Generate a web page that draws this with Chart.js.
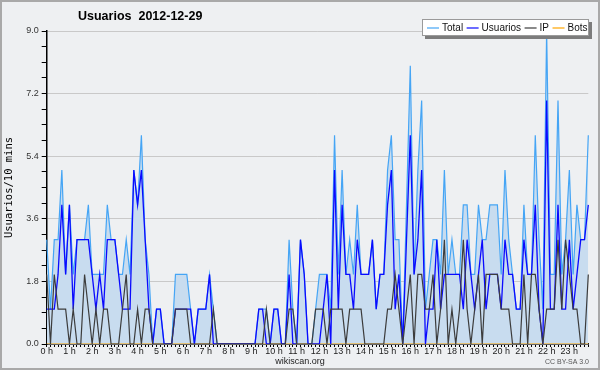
<!DOCTYPE html>
<html>
<head>
<meta charset="utf-8">
<script src="https://cdn.jsdelivr.net/npm/chart.js@4.4.1/dist/chart.umd.min.js"></script>
<style>
  html, body { margin: 0; padding: 0; background: #eef0f2; }
  #wrap { width: 600px; height: 370px; }
</style>
</head>
<body>
<div id="wrap"><canvas id="usersChart" width="600" height="370"></canvas></div>
<script>
// 10 minute slots, one day
const hourLabels = ['0 h', '1 h', '2 h', '3 h', '4 h', '5 h', '6 h', '7 h', '8 h', '9 h', '10 h', '11 h',
  '12 h', '13 h', '14 h', '15 h', '16 h', '17 h', '18 h', '19 h', '20 h', '21 h', '22 h', '23 h'];
const yTicks = [0.0, 1.8, 3.6, 5.4, 7.2, 9.0];

const total = [
  3, 1, 3, 3, 5, 2, 4, 2, 3, 3,
  3, 4, 2, 2, 2, 2, 4, 3, 3, 2,
  2, 3, 2, 5, 4, 6, 3, 2, 0, 1,
  1, 0, 0, 0, 2, 2, 2, 2, 1, 0,
  1, 1, 1, 2, 1, 0, 0, 0, 0, 0,
  0, 0, 0, 0, 0, 0, 1, 1, 1, 0,
  1, 1, 0, 0, 3, 1, 0, 3, 2, 0,
  0, 1, 2, 2, 2, 1, 6, 2, 5, 2,
  3, 2, 4, 2, 2, 2, 3, 1, 2, 2,
  5, 6, 3, 3, 0, 4, 8, 2, 5, 7,
  1, 2, 3, 3, 2, 5, 2, 3, 2, 2,
  4, 4, 2, 2, 4, 3, 3, 4, 4, 4,
  2, 5, 3, 2, 1, 1, 4, 2, 2, 6,
  3, 1, 9, 2, 2, 7, 2, 3, 5, 2,
  4, 3, 3, 6
];
const usuarios = [
  1, 1, 1, 2, 4, 2, 4, 1, 3, 3,
  3, 3, 2, 1, 2, 1, 3, 3, 3, 2,
  1, 1, 1, 5, 4, 5, 3, 1, 0, 1,
  1, 0, 0, 0, 1, 1, 1, 1, 1, 0,
  1, 1, 1, 2, 0, 0, 0, 0, 0, 0,
  0, 0, 0, 0, 0, 0, 1, 1, 0, 0,
  1, 1, 0, 0, 2, 0, 0, 3, 2, 0,
  0, 0, 0, 1, 2, 0, 5, 1, 4, 2,
  2, 1, 3, 2, 2, 2, 3, 1, 2, 2,
  4, 5, 1, 2, 0, 3, 6, 2, 3, 5,
  0, 1, 1, 3, 1, 2, 2, 2, 2, 2,
  1, 3, 2, 1, 2, 3, 1, 2, 2, 2,
  1, 3, 2, 2, 1, 1, 3, 2, 2, 4,
  1, 0, 7, 1, 1, 4, 1, 1, 3, 1,
  2, 3, 3, 4
];
const ip = [
  2, 0, 2, 1, 1, 1, 0, 1, 0, 0,
  2, 1, 0, 1, 0, 1, 1, 0, 0, 0,
  1, 2, 0, 0, 1, 0, 1, 1, 0, 0,
  0, 0, 0, 0, 1, 1, 1, 1, 0, 0,
  0, 0, 0, 0, 1, 0, 0, 0, 0, 0,
  0, 0, 0, 0, 0, 0, 0, 0, 1, 0,
  0, 0, 0, 0, 1, 1, 0, 0, 0, 0,
  0, 1, 1, 1, 0, 1, 1, 1, 1, 0,
  1, 1, 1, 1, 0, 0, 0, 0, 0, 0,
  1, 1, 2, 1, 0, 1, 2, 0, 2, 2,
  1, 1, 2, 0, 1, 3, 0, 1, 0, 1,
  3, 1, 0, 1, 2, 0, 2, 2, 2, 2,
  1, 1, 1, 0, 0, 0, 2, 0, 2, 2,
  1, 0, 1, 1, 1, 3, 1, 3, 2, 1,
  1, 0, 0, 2
];
const bots = [
  0, 0, 0, 0, 0, 0, 0, 0, 0, 0,
  0, 0, 0, 0, 0, 0, 0, 0, 0, 0,
  0, 0, 0, 0, 0, 0, 0, 0, 0, 0,
  0, 0, 0, 0, 0, 0, 0, 0, 0, 0,
  0, 0, 0, 0, 0, 0, 0, 0, 0, 0,
  0, 0, 0, 0, 0, 0, 0, 0, 0, 0,
  0, 0, 0, 0, 0, 0, 0, 0, 0, 0,
  0, 0, 0, 0, 0, 0, 0, 0, 0, 0,
  0, 0, 0, 0, 0, 0, 0, 0, 0, 0,
  0, 0, 0, 0, 0, 0, 0, 0, 0, 0,
  0, 0, 0, 0, 0, 0, 0, 0, 0, 0,
  0, 0, 0, 0, 0, 0, 0, 0, 0, 0,
  0, 0, 0, 0, 0, 0, 0, 0, 0, 0,
  0, 0, 0, 0, 0, 0, 0, 0, 0, 0,
  0, 0, 0, 0
];

// one category per 10 minute slot
const slots = [];
hourLabels.forEach(h => {
  for (let m = 0; m < 60; m += 10) slots.push(h + ' ' + m);
});

// major y ticks split in 4 for the small marks
const yTickValues = [];
for (let i = 0; i < yTicks.length - 1; i++) {
  const step = (yTicks[i + 1] - yTicks[i]) / 4;
  for (let k = 0; k < 4; k++) yTickValues.push(yTicks[i] + k * step);
}
yTickValues.push(yTicks[yTicks.length - 1]);

const FONT = '"Liberation Sans", Arial, sans-serif';

const decor = {
  id: "decor",
  beforeDraw(chart) {
    const ctx = chart.ctx;
    ctx.save();
    ctx.fillStyle = "#eef0f2";
    ctx.fillRect(0, 0, chart.width, chart.height);
    ctx.restore();
  },
  afterDraw(chart) {
    const ctx = chart.ctx;
    ctx.save();

    // frame
    ctx.strokeStyle = "#a9a9a9";
    ctx.lineWidth = 2;
    ctx.strokeRect(1, 1, chart.width - 2, chart.height - 2);

    // title
    ctx.fillStyle = "#000";
    ctx.font = "bold 12.5px " + FONT;
    ctx.textBaseline = "middle";
    ctx.textAlign = "left";
    ctx.fillText("Usuarios  2012-12-29", 78, 17);

    // legend box with shadow
    const bx = 422, by = 19, bw = 167, bh = 17;
    ctx.fillStyle = "#7c7c7c";
    ctx.fillRect(bx + 3, by + bh, bw, 3);
    ctx.fillRect(bx + bw, by + 3, 3, bh);
    ctx.fillStyle = "#fff";
    ctx.fillRect(bx, by, bw, bh);
    ctx.strokeStyle = "#9a9a9a";
    ctx.lineWidth = 1;
    ctx.strokeRect(bx + 0.5, by + 0.5, bw - 1, bh - 1);

    ctx.font = "10px " + FONT;
    let x = 427;
    const ly = by + bh / 2 + 0.5;
    chart.data.datasets.forEach(ds => {
      ctx.strokeStyle = ds.borderColor;
      ctx.lineWidth = 1.2;
      ctx.beginPath();
      ctx.moveTo(x, ly);
      ctx.lineTo(x + 12, ly);
      ctx.stroke();
      ctx.fillStyle = "#111";
      ctx.fillText(ds.label, x + 15, ly);
      x += 15 + ctx.measureText(ds.label).width + 3.5;
    });

    // footer
    ctx.fillStyle = "#222";
    ctx.font = "9px " + FONT;
    ctx.textAlign = "center";
    ctx.fillText("wikiscan.org", 300, 362);
    ctx.fillStyle = "#555";
    ctx.font = "7px " + FONT;
    ctx.textAlign = "right";
    ctx.fillText("CC BY-SA 3.0", 589, 362);

    ctx.restore();
  }
};

const canvas = document.getElementById("usersChart");

new Chart(canvas.getContext("2d"), {
  type: "line",
  data: {
    labels: slots,
    datasets: [
      {
        label: "Total",
        data: total,
        borderColor: "#45a5f5",
        backgroundColor: "#c8dcef",
        borderWidth: 1.2,
        fill: "origin",
        order: 4
      },
      {
        label: "Usuarios",
        data: usuarios,
        borderColor: "#0a0aff",
        borderWidth: 1.3,
        fill: false,
        order: 2
      },
      {
        label: "IP",
        data: ip,
        borderColor: "#3c3c3c",
        borderWidth: 1.2,
        fill: false,
        order: 1
      },
      {
        label: "Bots",
        data: bots,
        borderColor: "#ffa500",
        borderWidth: 1.2,
        fill: false,
        order: 3
      }
    ]
  },
  options: {
    responsive: false,
    animation: false,
    devicePixelRatio: 1,
    elements: {
      point: { radius: 0 },
      line: { tension: 0 }
    },
    layout: {
      padding: { top: 31, right: 11.7, left: 0, bottom: 0 }
    },
    plugins: {
      legend: { display: false },
      title: { display: false },
      tooltip: { enabled: false }
    },
    scales: {
      x: {
        type: "category",
        offset: false,
        z: 1,
        grid: {
          display: true,
          drawOnChartArea: false,
          drawTicks: true,
          tickLength: 3,
          tickColor: "#000",
          color: "#000"
        },
        border: { display: true, color: "#000", width: 1.5 },
        ticks: {
          autoSkip: false,
          maxRotation: 0,
          minRotation: 0,
          padding: -1,
          color: "#222",
          font: { family: FONT, size: 9 },
          callback: (v, i) => (i % 6 === 0 ? hourLabels[i / 6] : "")
        },
        afterFit: s => { s.height = 26; }
      },
      y: {
        min: 0,
        max: 9,
        afterBuildTicks: s => { s.ticks = yTickValues.map(v => ({ value: v })); },
        ticks: {
          autoSkip: false,
          padding: 3,
          color: "#333",
          font: { family: FONT, size: 9 },
          callback: (v, i) => (i % 4 === 0 ? v.toFixed(1) : "")
        },
        grid: {
          color: c => (c.index % 4 === 0 ? "#c9c9c9" : "rgba(0,0,0,0)"),
          tickColor: "#000",
          tickLength: 5,
          drawTicks: true
        },
        border: { color: "#000", width: 1.5 },
        title: {
          display: true,
          text: "Usuarios/10 mins",
          color: "#000",
          font: { family: '"DejaVu Sans Mono", monospace', size: 10.5 },
          padding: { top: 3, bottom: 0 }
        },
        afterFit: s => { s.width = 46.7; }
      }
    }
  },
  plugins: [decor]
});
</script>
</body>
</html>
